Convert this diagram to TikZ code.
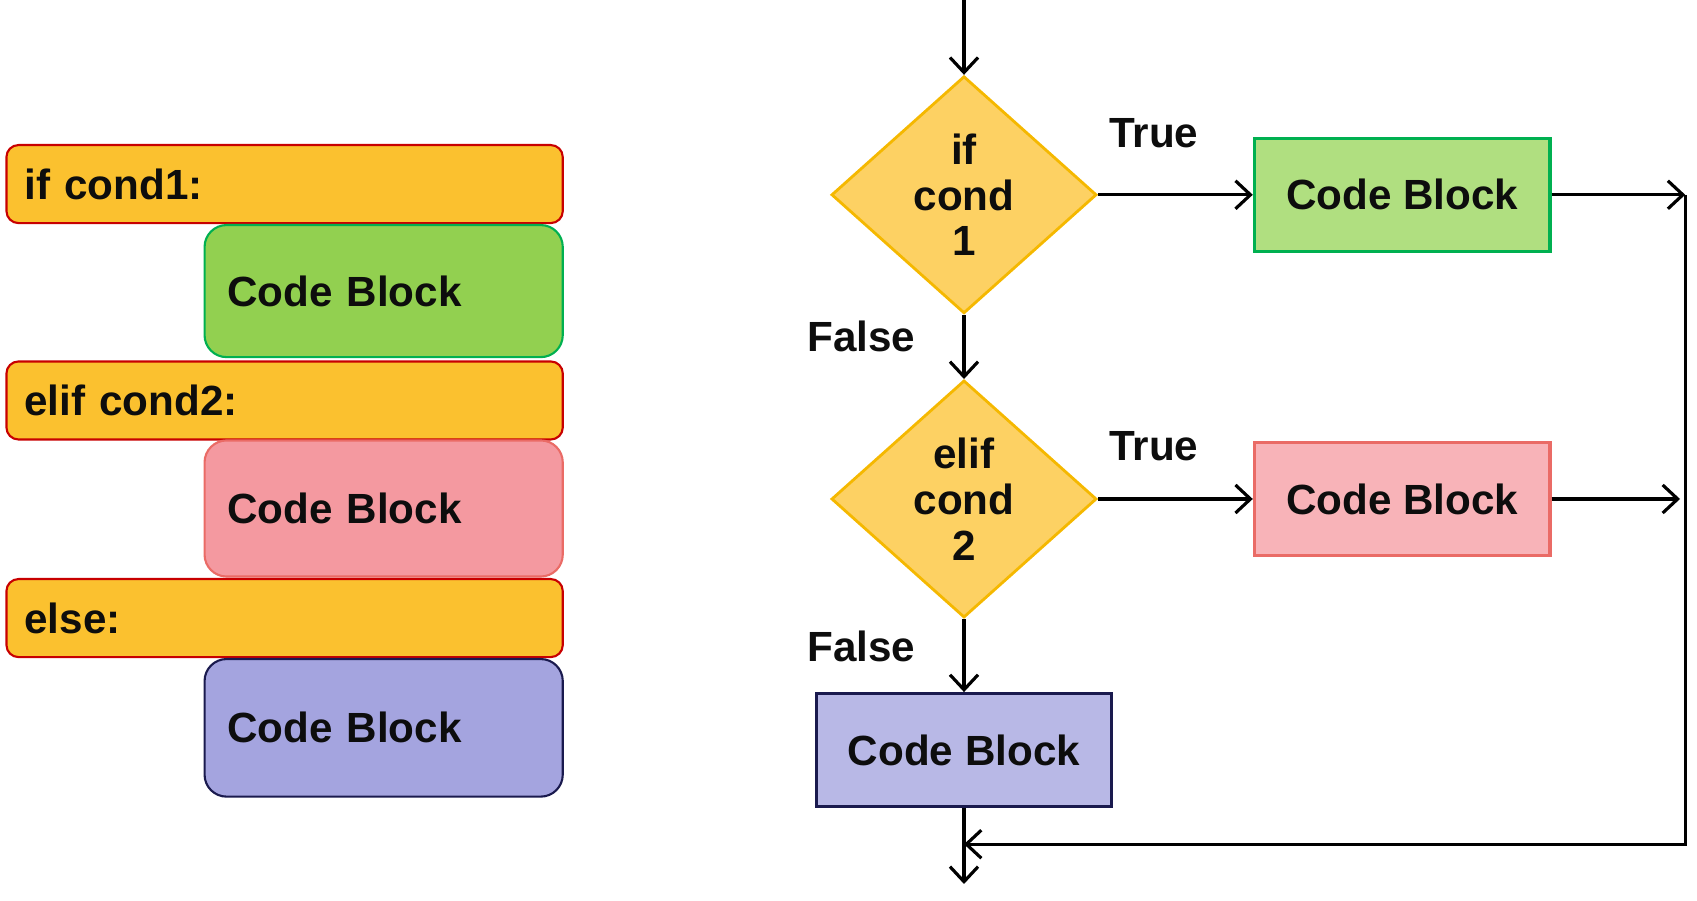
\documentclass[tikz,border=0pt]{standalone}
\usepackage{fontspec}
\setmainfont{Liberation Sans}
\usetikzlibrary{shapes.geometric,arrows.meta,positioning}

\definecolor{barFill}{RGB}{251,193,47}
\definecolor{barDraw}{RGB}{200,0,0}
\definecolor{greenFill}{RGB}{146,208,80}
\definecolor{greenDraw}{RGB}{0,176,80}
\definecolor{pinkFill}{RGB}{244,153,160}
\definecolor{pinkDraw}{RGB}{234,107,102}
\definecolor{blueFill}{RGB}{164,164,223}
\definecolor{blueDraw}{RGB}{26,26,78}
\definecolor{diaFill}{RGB}{253,209,99}
\definecolor{diaDraw}{RGB}{245,184,0}
\definecolor{greenLite}{RGB}{176,223,128}
\definecolor{pinkLite}{RGB}{248,179,184}
\definecolor{blueLite}{RGB}{184,184,230}

\begin{document}
\begin{tikzpicture}[
    x=0.01cm, y=-0.01cm,
    font=\fontsize{12}{13}\selectfont\bfseries,
    text=black!95,
    condBar/.style={
        rectangle, rounded corners=0.12cm, draw=barDraw, line width=0.6pt,
        fill=barFill, anchor=north west, text width=5.2cm, inner xsep=0.18cm,
        inner ysep=0pt, minimum height=0.78cm, align=left
    },
    codeBlock/.style={
        rectangle, rounded corners=0.22cm, line width=0.6pt, anchor=north west,
        text width=3.13cm, inner xsep=0.225cm, inner ysep=0pt, align=left
    },
    decision/.style={
        diamond, draw=diaDraw, fill=diaFill, line width=0.8pt,
        minimum width=2.65cm, minimum height=2.37cm, inner sep=0pt, align=center
    },
    flowBox/.style={
        rectangle, line width=0.9pt, minimum width=2.955cm,
        minimum height=1.126cm, inner sep=0pt
    },
    flow/.style={
        -{Straight Barb[length=1.5mm, width=2.8mm]}, line width=0.9pt
    },
    branchLabel/.style={inner sep=0pt}
]
\useasboundingbox (0,0) rectangle (1697,901);

% Code view
\node[condBar] (ifBar) at (5.4,144) {if cond1:};
\node[codeBlock, fill=greenFill, draw=greenDraw, minimum height=1.32cm] (ifCode) at (203.5,224) {Code Block};
\node[condBar] (elifBar) at (5.4,360.4) {elif cond2:};
\node[codeBlock, fill=pinkFill, draw=pinkDraw, minimum height=1.36cm] (elifCode) at (203.5,439.4) {Code Block};
\node[condBar] (elseBar) at (5.4,578) {else:};
\node[codeBlock, fill=blueFill, draw=blueDraw, minimum height=1.375cm] (elseCode) at (203.5,658) {Code Block};

% Flowchart
\node[decision] (condA) at (964,194.8) {if\\cond\\1};
\node[decision] (condB) at (964,499) {elif\\cond\\2};
\node[flowBox, fill=greenLite, draw=greenDraw] (trueA) at (1402.2,194.8) {Code Block};
\node[flowBox, fill=pinkLite, draw=pinkDraw] (trueB) at (1402.2,499) {Code Block};
\node[flowBox, fill=blueLite, draw=blueDraw] (falseB) at (964,750) {Code Block};

% Labels
\node[branchLabel] (trueLblA) at (1153.7,133) {True};
\node[branchLabel] (trueLblB) at (1153.7,445.9) {True};
\node[branchLabel] (falseLblA) at (861.5,336.6) {False};
\node[branchLabel] (falseLblB) at (861.5,646.1) {False};

% Free ends
\coordinate (entry) at (964,0);
\coordinate (joinA) at (1685.2,194.8);
\coordinate (joinB) at (1680,499);
\coordinate (merge) at (964,844.2);
\coordinate (exit) at (964,884);

% Connectors
\draw[flow] (entry) -- (condA.north);
\draw[flow] (condA.east) -- (trueA.west);
\draw[flow] (condA.south) -- (condB.north);
\draw[flow] (condB.east) -- (trueB.west);
\draw[flow] (condB.south) -- (falseB.north);
\draw[flow] (trueA.east) -- (joinA);
\draw[flow] (trueB.east) -- (joinB);
\draw[flow] (joinA) |- (merge);
\draw[flow] (falseB.south) -- (exit);

\end{tikzpicture}
\end{document}
